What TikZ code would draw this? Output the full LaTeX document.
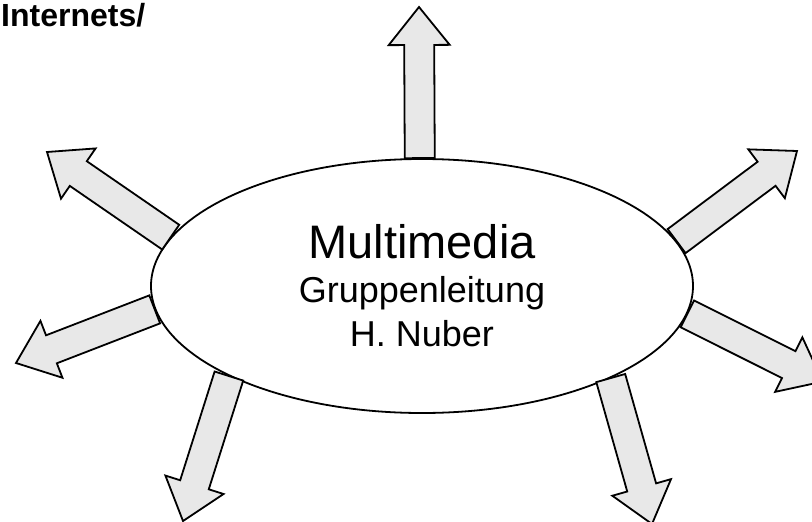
\documentclass[tikz,border=0pt]{standalone}
\usepackage{fontspec}
\setmainfont{Liberation Sans}
\usetikzlibrary{calc,shapes.geometric}
\definecolor{arrowfill}{HTML}{E8E8E8}
\tikzset{
  fatarrow/.style={draw=black, fill=arrowfill, line width=1.8pt, line join=miter},
  bubble/.style={ellipse, draw=black, fill=white, line width=1.8pt,
    minimum width=542pt, minimum height=254pt, inner sep=0pt,
    align=center, font=\fontsize{36}{44}\selectfont},
  heading/.style={anchor=base west, inner sep=0pt, font=\bfseries\fontsize{32}{32}\selectfont},
}
% #1 = prefix; coordinates (#1b) base and (#1t) tip must exist
\newcommand\fatarrow[1]{%
  \coordinate (#1h) at ($(#1t)!38pt!(#1b)$);
  \draw[fatarrow] ($(#1b)!15pt!90:(#1t)$) -- ($(#1h)!15pt!90:(#1t)$)
    -- ($(#1h)!30.5pt!90:(#1t)$) -- (#1t) -- ($(#1h)!30.5pt!-90:(#1t)$)
    -- ($(#1h)!15pt!-90:(#1t)$) -- ($(#1b)!15pt!-90:(#1t)$) -- cycle;}
\begin{document}
\begin{tikzpicture}[x=1pt,y=-1pt]
\useasboundingbox (0,0) rectangle (812,522);
\node[heading] (hdr) at (1,27) {Internets/};
\node[bubble] (mm) at (422,286) {{\fontsize{47}{44}\selectfont Multimedia}\\Gruppenleitung\\H. Nuber};
% bases on the ellipse, tips free
\coordinate (tpb) at (mm.91);   \coordinate (tpt) at (419,7);
\coordinate (ulb) at (mm.169);  \coordinate (ult) at (47,152);
\coordinate (urb) at (mm.10);   \coordinate (urt) at (797,151);
\coordinate (llb) at (mm.185);  \coordinate (llt) at (16,363);
\coordinate (lrb) at (mm.354);  \coordinate (lrt) at (822.7,381.6);
\coordinate (blb) at (mm.205);  \coordinate (blt) at (183,521);
\coordinate (brb) at (mm.334);  \coordinate (brt) at (652,524);
\fatarrow{tp}
\fatarrow{ul}
\fatarrow{ur}
\fatarrow{ll}
\fatarrow{lr}
\fatarrow{bl}
\fatarrow{br}
\end{tikzpicture}
\end{document}
